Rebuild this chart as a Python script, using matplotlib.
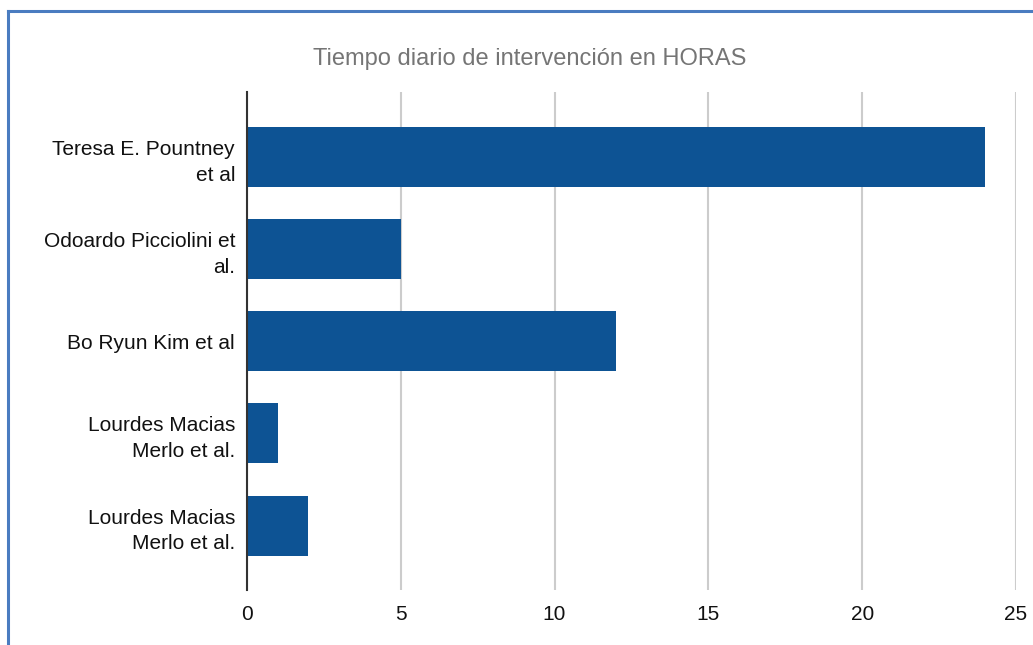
import matplotlib.pyplot as plt
from matplotlib.lines import Line2D

plt.rcParams['font.family'] = ['Liberation Sans', 'DejaVu Sans']

# Datos: horas diarias de intervención por estudio
autores = ["Teresa E. Pountney\net al", "Odoardo Picciolini et\nal.", "Bo Ryun Kim et al",
           "Lourdes Macias\nMerlo et al.", "Lourdes Macias\nMerlo et al."]
horas = [24, 5, 12, 1, 2]
ticks_x = [0, 5, 10, 15, 20, 25]

fig = plt.figure(figsize=(10.33, 6.45), dpi=100)
ax = fig.add_axes([0.239, 0.085, 0.7445, 0.772])

y = list(range(len(autores)))
ax.barh(y, horas, height=0.65, color="#0d5394", zorder=3)

ax.set_xlim(0, 25)
ax.set_ylim(len(autores) - 0.3, -0.7)
ax.set_xticks(ticks_x)
ax.set_yticks(y)
ax.set_yticklabels(autores, ha="right", multialignment="right", linespacing=1.45)
ax.tick_params(axis="both", length=0, labelsize=15, colors="#111111")
ax.tick_params(axis="x", pad=11)
ax.tick_params(axis="y", pad=8.5)

ax.grid(axis="x", color="#cccccc", linewidth=1.5, zorder=0)
for s in ["top", "right", "bottom"]:
    ax.spines[s].set_visible(False)
ax.spines["left"].set_color("#333333")
ax.spines["left"].set_linewidth(1.5)
ax.spines["left"].set_zorder(4)

fig.text(0.513, 0.908, "Tiempo diario de intervención en HORAS", ha="center", va="center",
         fontsize=17, color="#757575")

# marco azul (solo izquierda y arriba)
fig.add_artist(Line2D([8 / 1033, 8 / 1033], [0, 1 - 11 / 645], color="#4a7cc0", linewidth=2.2,
                      transform=fig.transFigure))
fig.add_artist(Line2D([8 / 1033, 1], [1 - 11 / 645, 1 - 11 / 645], color="#4a7cc0", linewidth=2.2,
                      transform=fig.transFigure))

fig.savefig("out.png", dpi=100)
